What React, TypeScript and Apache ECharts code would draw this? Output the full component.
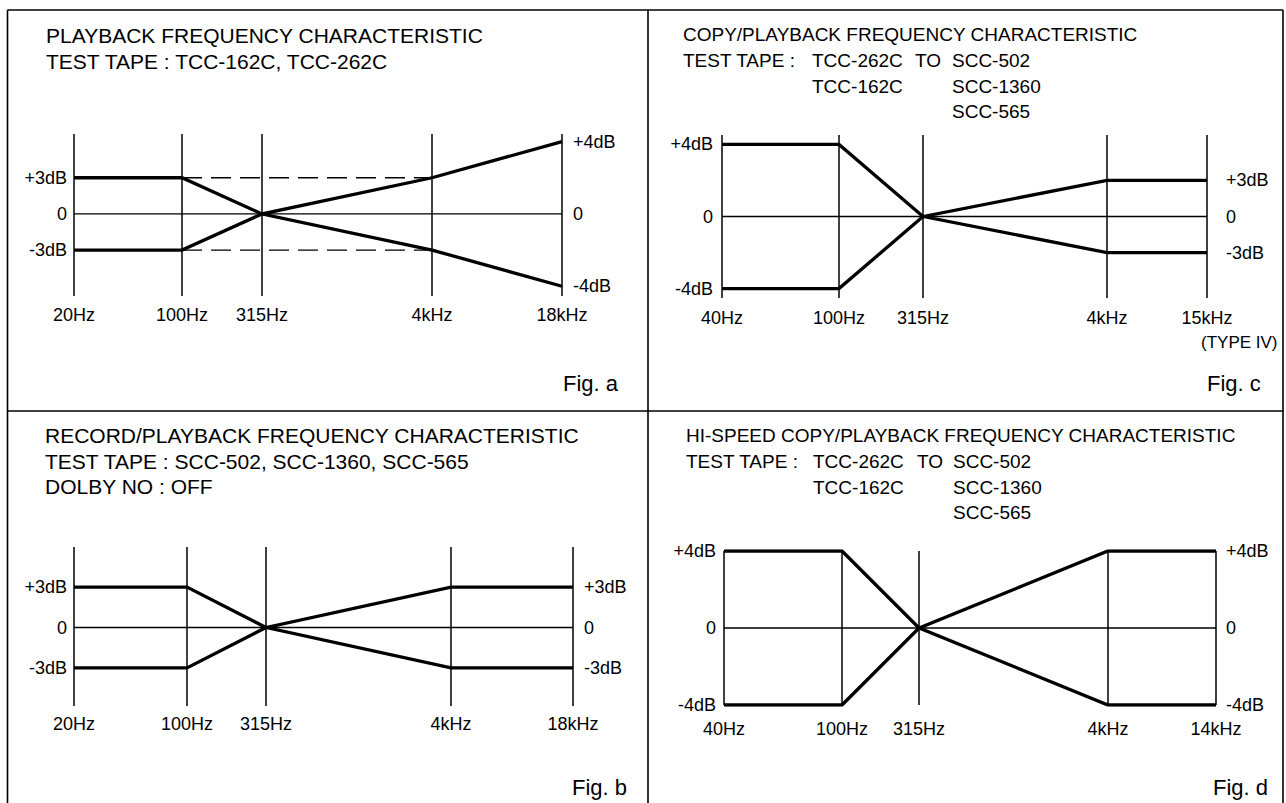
import React, { useEffect, useRef } from 'react';
import * as echarts from 'echarts';

// ---------- DATA ----------
// Fig. a : playback frequency characteristic
const aFreqs = ['20Hz', '100Hz', '315Hz', '4kHz', '18kHz'];
const aUpper = [3, 3, 0, 3, 4];
const aLower = [-3, -3, 0, -3, -4];
const aRefUpper = [null, 3, 3, 3, null];
const aRefLower = [null, -3, -3, -3, null];
const aLevels = [-4, -3, 0, 3, 4];
const aLeftTicks = [-3, 0, 3];
const aRightTicks = [-4, 0, 4];

// Fig. b : record/playback frequency characteristic
const bFreqs = ['20Hz', '100Hz', '315Hz', '4kHz', '18kHz'];
const bUpper = [3, 3, 0, 3, 3];
const bLower = [-3, -3, 0, -3, -3];
const bLevels = [-3, 0, 3];
const bLeftTicks = [-3, 0, 3];
const bRightTicks = [-3, 0, 3];

// Fig. c : copy/playback frequency characteristic
const cFreqs = ['40Hz', '100Hz', '315Hz', '4kHz', '15kHz'];
const cUpper = [4, 4, 0, 3, 3];
const cLower = [-4, -4, 0, -3, -3];
const cLevels = [-4, -3, 0, 3, 4];
const cLeftTicks = [-4, 0, 4];
const cRightTicks = [-3, 0, 3];

// Fig. d : hi-speed copy/playback frequency characteristic
const dFreqs = ['40Hz', '100Hz', '315Hz', '4kHz', '14kHz'];
const dUpper = [4, 4, 0, 4, 4];
const dLower = [-4, -4, 0, -4, -4];
const dLevels = [-4, 0, 4];
const dLeftTicks = [-4, 0, 4];
const dRightTicks = [-4, 0, 4];

const zeroRef = [0, 0, 0, 0, 0];

// ---------- LAYOUT (schematic axis spacing of the printed figure) ----------
const FONT = '"Liberation Sans", Arial, Helvetica, sans-serif';
const INK = '#000';

type Panel = {
  freqs: string[]; upper: number[]; lower: number[];
  refUpper?: (number | null)[]; refLower?: (number | null)[];
  levels: number[]; leftTicks: number[]; rightTicks: number[];
  left: number; top: number; width: number; height: number;
  slots: number[]; yMin: number; yMax: number;
  xMargin: number; lMargin: number; rMargin: number;
};

const panels: Panel[] = [
  {
    freqs: aFreqs, upper: aUpper, lower: aLower, refUpper: aRefUpper, refLower: aRefLower,
    levels: aLevels, leftTicks: aLeftTicks, rightTicks: aRightTicks,
    left: 74, top: 134, width: 488, height: 162, slots: [0, 108, 188, 358, 488],
    yMin: -0.27, yMax: 4.21, xMargin: 10, lMargin: 7, rMargin: 11,
  },
  {
    freqs: bFreqs, upper: bUpper, lower: bLower,
    levels: bLevels, leftTicks: bLeftTicks, rightTicks: bRightTicks,
    left: 74, top: 547, width: 499, height: 159, slots: [0, 113, 192, 377, 499],
    yMin: -0.94, yMax: 2.99, xMargin: 9, lMargin: 7, rMargin: 11,
  },
  {
    freqs: cFreqs, upper: cUpper, lower: cLower,
    levels: cLevels, leftTicks: cLeftTicks, rightTicks: cRightTicks,
    left: 722, top: 135, width: 485, height: 163, slots: [0, 117, 201, 385, 485],
    yMin: -0.26, yMax: 4.26, xMargin: 11, lMargin: 9, rMargin: 19,
  },
  {
    freqs: dFreqs, upper: dUpper, lower: dLower,
    levels: dLevels, leftTicks: dLeftTicks, rightTicks: dRightTicks,
    left: 724, top: 551, width: 492, height: 154, slots: [0, 118, 195, 384, 492],
    yMin: 0, yMax: 2, xMargin: 15, lMargin: 8, rMargin: 10,
  },
];

const dbLabel = (v: number) => (v === 0 ? '0' : (v > 0 ? '+' : '-') + Math.abs(v) + 'dB');

function buildOption() {
  const grid: any[] = [];
  const xAxis: any[] = [];
  const yAxis: any[] = [];
  const series: any[] = [];

  panels.forEach((p, i) => {
    grid.push({ left: p.left, top: p.top, width: p.width, height: p.height, containLabel: false });
    const lvl = (v: number) => p.levels.indexOf(v);
    xAxis.push({
      type: 'value', gridIndex: i, min: 0, max: p.slots[p.slots.length - 1],
      axisLine: { show: false }, axisTick: { show: false }, splitLine: { show: false },
      axisLabel: {
        customValues: p.slots, margin: p.xMargin, fontSize: 18, fontFamily: FONT, color: INK,
        formatter: (v: number) => p.freqs[p.slots.indexOf(v)] ?? '',
      },
    });
    const yCommon = {
      type: 'value', gridIndex: i, min: p.yMin, max: p.yMax,
      axisLine: { show: false }, axisTick: { show: false }, splitLine: { show: false },
    };
    yAxis.push({
      ...yCommon, position: 'left',
      axisLabel: {
        customValues: p.leftTicks.map(lvl), margin: p.lMargin, fontSize: 18, fontFamily: FONT, color: INK,
        formatter: (v: number) => dbLabel(p.levels[Math.round(v)]),
      },
    });
    yAxis.push({
      ...yCommon, position: 'right',
      axisLabel: {
        customValues: p.rightTicks.map(lvl), margin: p.rMargin, fontSize: 18, fontFamily: FONT, color: INK,
        formatter: (v: number) => dbLabel(p.levels[Math.round(v)]),
      },
    });
    const base = { type: 'line', xAxisIndex: i, yAxisIndex: 2 * i, symbol: 'none', silent: true };
    // zero reference line + frequency verticals
    series.push({
      ...base,
      data: zeroRef.map((v, k) => [p.slots[k], lvl(v)]),
      lineStyle: { color: INK, width: 1.4 },
      z: 2,
      markLine: {
        silent: true, symbol: ['none', 'none'], label: { show: false },
        lineStyle: { color: INK, width: 1.5, type: 'solid' },
        emphasis: { disabled: true },
        data: p.slots.map((s) => ({ xAxis: s })),
      },
    });
    if (p.refUpper && p.refLower) {
      [p.refUpper, p.refLower].forEach((ref) => {
        series.push({
          ...base,
          data: ref.map((v, k) => [p.slots[k], v === null ? null : lvl(v)]).filter((d) => d[1] !== null),
          lineStyle: { color: INK, width: 1.4, type: [20, 9] },
          z: 3,
        });
      });
    }
    [p.upper, p.lower].forEach((arr) => {
      series.push({
        ...base,
        data: arr.map((v, k) => [p.slots[k], lvl(v)]),
        lineStyle: { color: INK, width: 3.3, cap: 'butt', join: 'miter' },
        z: 4,
      });
    });
  });

  const txt = (text: string, x: number, y: number, size = 21, align = 'left') => ({
    type: 'text', x, y, silent: true,
    style: { text, fill: INK, font: `${size}px ${FONT}`, textAlign: align, textVerticalAlign: 'middle' },
  });
  const ln = (x1: number, y1: number, x2: number, y2: number) => ({
    type: 'line', silent: true,
    shape: { x1, y1, x2, y2 },
    style: { stroke: INK, lineWidth: 1.6 },
  });

  const R = 19; // right-hand figures are printed slightly smaller
  const graphic = [
    ln(7.5, 10, 1283, 10),
    ln(7.5, 10, 7.5, 803),
    ln(1283, 10, 1283, 803),
    ln(648, 10, 648, 803),
    ln(7.5, 411, 1283, 411),
    // Fig. a
    txt('PLAYBACK FREQUENCY CHARACTERISTIC', 46, 35),
    txt('TEST TAPE : TCC-162C, TCC-262C', 46, 61),
    txt('Fig. a', 563, 383, 22),
    // Fig. b
    txt('RECORD/PLAYBACK FREQUENCY CHARACTERISTIC', 45, 435),
    txt('TEST TAPE : SCC-502, SCC-1360, SCC-565', 45, 461),
    txt('DOLBY NO : OFF', 45, 486),
    txt('Fig. b', 572, 787, 22),
    // Fig. c
    txt('COPY/PLAYBACK FREQUENCY CHARACTERISTIC', 683, 34, R),
    txt('TEST TAPE :', 683, 60, R),
    txt('TCC-262C', 812, 60, R),
    txt('TO', 915, 60, R),
    txt('SCC-502', 952, 60, R),
    txt('TCC-162C', 812, 86, R),
    txt('SCC-1360', 952, 86, R),
    txt('SCC-565', 952, 111.5, R),
    txt('(TYPE IV)', 1201, 342, 17),
    txt('Fig. c', 1207, 383, 22),
    // Fig. d
    txt('HI-SPEED COPY/PLAYBACK FREQUENCY CHARACTERISTIC', 686, 435, R),
    txt('TEST TAPE :', 686, 461, R),
    txt('TCC-262C', 813, 461, R),
    txt('TO', 917, 461, R),
    txt('SCC-502', 953, 461, R),
    txt('TCC-162C', 813, 487, R),
    txt('SCC-1360', 953, 487, R),
    txt('SCC-565', 953, 512, R),
    txt('Fig. d', 1213, 787, 22),
  ];

  return {
    animation: false,
    backgroundColor: '#ffffff',
    grid, xAxis, yAxis, series, graphic,
  };
}

export default function App() {
  const ref = useRef<HTMLDivElement>(null);
  useEffect(() => {
    if (!ref.current) return;
    const chart = echarts.init(ref.current, undefined, { renderer: 'svg' });
    chart.setOption(buildOption() as any);
    return () => chart.dispose();
  }, []);
  return (
    <div
      ref={ref}
      style={{ position: 'absolute', left: 0, top: 0, width: 1286, height: 803, background: '#fff' }}
    />
  );
}
